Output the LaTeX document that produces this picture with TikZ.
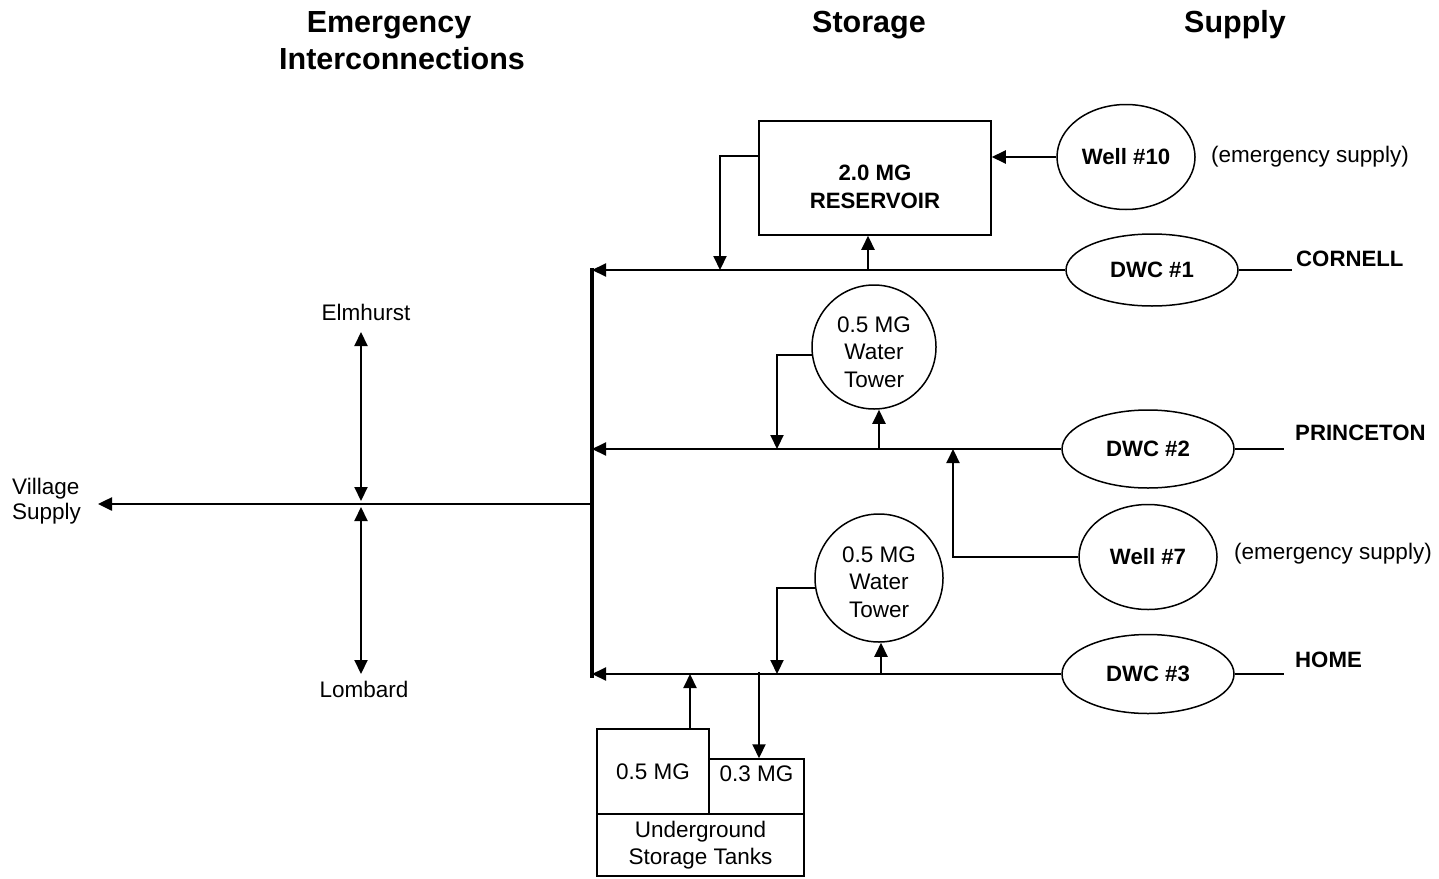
\documentclass[tikz,border=0pt]{standalone}
\usepackage{fontspec}
\setmainfont{Liberation Sans}
\usetikzlibrary{arrows.meta,shapes.geometric}
\newcommand\mynormal{\fontsize{22.5}{27.5}\selectfont}
\newcommand\mybold{\fontsize{22.2}{28}\selectfont\bfseries}
\newcommand\myhead{\fontsize{30.5}{37}\selectfont\bfseries}
\begin{document}
\begin{tikzpicture}[x=1pt,y=-1pt,
  arr/.style={-{Triangle[length=14pt,width=13pt]}, line width=2.1pt},
  arrboth/.style={{Triangle[length=14pt,width=13pt]}-{Triangle[length=14pt,width=13pt]}, line width=2.1pt},
  thinline/.style={line width=1.5pt},
  box/.style={draw, line width=1.5pt, rectangle, inner sep=0pt, align=center, font=\mynormal},
  oval/.style={draw, line width=1.5pt, ellipse, inner sep=0pt, font=\mybold},
  tower/.style={draw, line width=1.5pt, circle, inner sep=0pt},
  lbl/.style={inner sep=0pt, font=\mynormal, align=center},
  blbl/.style={inner sep=0pt, font=\mybold, align=center},
  head/.style={inner sep=0pt, font=\myhead, anchor=base}]
\useasboundingbox (0,0) rectangle (1439,878);

% headings
\node[head] (h1t) at (389,32) {Emergency};
\node[head] (h2t) at (402,69) {Interconnections};
\node[head] (h3t) at (869,32) {Storage};
\node[head] (h4t) at (1235,32) {Supply};

% storage
\node[box, minimum width=232pt, minimum height=114pt,
  label={[blbl,yshift=-9pt]center:{2.0 MG\\RESERVOIR}}] (res) at (875,178) {};
\node[tower, minimum size=124pt,
  label={[lbl,yshift=-5pt]center:{0.5 MG\\Water\\Tower}}] (wt1) at (874,347) {};
\node[tower, minimum size=128pt,
  label={[lbl,yshift=-4pt]center:{0.5 MG\\Water\\Tower}}] (wt2) at (879,578) {};
\node[box, minimum width=112pt, minimum height=85pt] (t5) at (653,771.5) {0.5 MG};
\node[box, minimum width=95pt, minimum height=55pt,
  label={[lbl,yshift=13pt]center:0.3 MG}] (t3) at (756.5,786.5) {};
\node[box, minimum width=207pt, minimum height=62pt] (tu) at (700.5,845) {Underground\\Storage Tanks};

% supply
\node[oval, minimum width=138pt, minimum height=105pt] (well10) at (1126,157) {Well \#10};
\node[oval, minimum width=172pt, minimum height=72pt] (dwc1) at (1152,270) {DWC \#1};
\node[oval, minimum width=172pt, minimum height=78pt] (dwc2) at (1148,449) {DWC \#2};
\node[oval, minimum width=138pt, minimum height=105pt] (well7) at (1148,557) {Well \#7};
\node[oval, minimum width=172pt, minimum height=79pt] (dwc3) at (1148,674) {DWC \#3};

\node[lbl, anchor=west] (em10) at (1211,157) {(emergency supply)};
\node[lbl, anchor=west] (em7) at (1234,554) {(emergency supply)};
\node[blbl, anchor=west] (cor) at (1296,259) {CORNELL};
\node[blbl, anchor=west] (pri) at (1295,433) {PRINCETON};
\node[blbl, anchor=west] (home) at (1295,660) {HOME};

% interconnections
\node[lbl] (elm) at (366,312) {Elmhurst};
\node[lbl] (lom) at (364,689) {Lombard};
\node[lbl, anchor=west, align=left, font=\fontsize{22.5}{25}\selectfont] (vil) at (12,501) {Village\\Supply};

% coordinates
\coordinate (bTop) at (592,268);
\coordinate (bBot) at (592,678);
\coordinate (c0) at (592,270);
\coordinate (c1) at (720,270);
\coordinate (c2) at (868,270);
\coordinate (p0) at (592,449);
\coordinate (p1) at (777,449);
\coordinate (p2) at (879,449);
\coordinate (p3) at (953,449);
\coordinate (h0) at (592,674);
\coordinate (h1) at (777,674);
\coordinate (h2) at (690,674);
\coordinate (h3) at (759,672);
\coordinate (h4) at (881,674);
\coordinate (v0) at (592,504);
\coordinate (v1) at (98,504);
\coordinate (e1) at (361,332);
\coordinate (e2) at (361,501);
\coordinate (l1) at (361,507);
\coordinate (l2) at (361,674);
\coordinate (corEnd) at (1292,270);
\coordinate (priEnd) at (1284,449);
\coordinate (homeEnd) at (1284,674);

% bus
\draw[line width=3.2pt] (bTop) -- (bBot);

% Cornell line
\draw[arr] (dwc1.west) -- (c0);
\draw[arr] ([yshift=22pt]res.west) -| (c1);
\draw[arr] (c2) -- (c2 |- res.south);
\draw[arr] (well10.west) -- (well10.west -| res.east);
\draw[thinline] (dwc1.east) -- (corEnd);

% Princeton line
\draw[arr] (dwc2.west) -- (p0);
\draw[arr] (wt1.187) -| (p1);
\draw[arr] (p2) -- (p2 |- wt1.south);
\draw[arr] (well7.west) -| (p3);
\draw[thinline] (dwc2.east) -- (priEnd);

% Home line
\draw[arr] (dwc3.west) -- (h0);
\draw[arr] (wt2.189) -| (h1);
\draw[arr] (h4) -- (h4 |- wt2.south);
\draw[arr] (h2 |- t5.north) -- (h2);
\draw[arr] (h3) -- (h3 |- t3.north);
\draw[thinline] (dwc3.east) -- (homeEnd);

% village supply and interconnections
\draw[arr, line width=2.5pt] (v0) -- (v1);
\draw[arrboth] (e1) -- (e2);
\draw[arrboth] (l1) -- (l2);
\end{tikzpicture}
\end{document}
